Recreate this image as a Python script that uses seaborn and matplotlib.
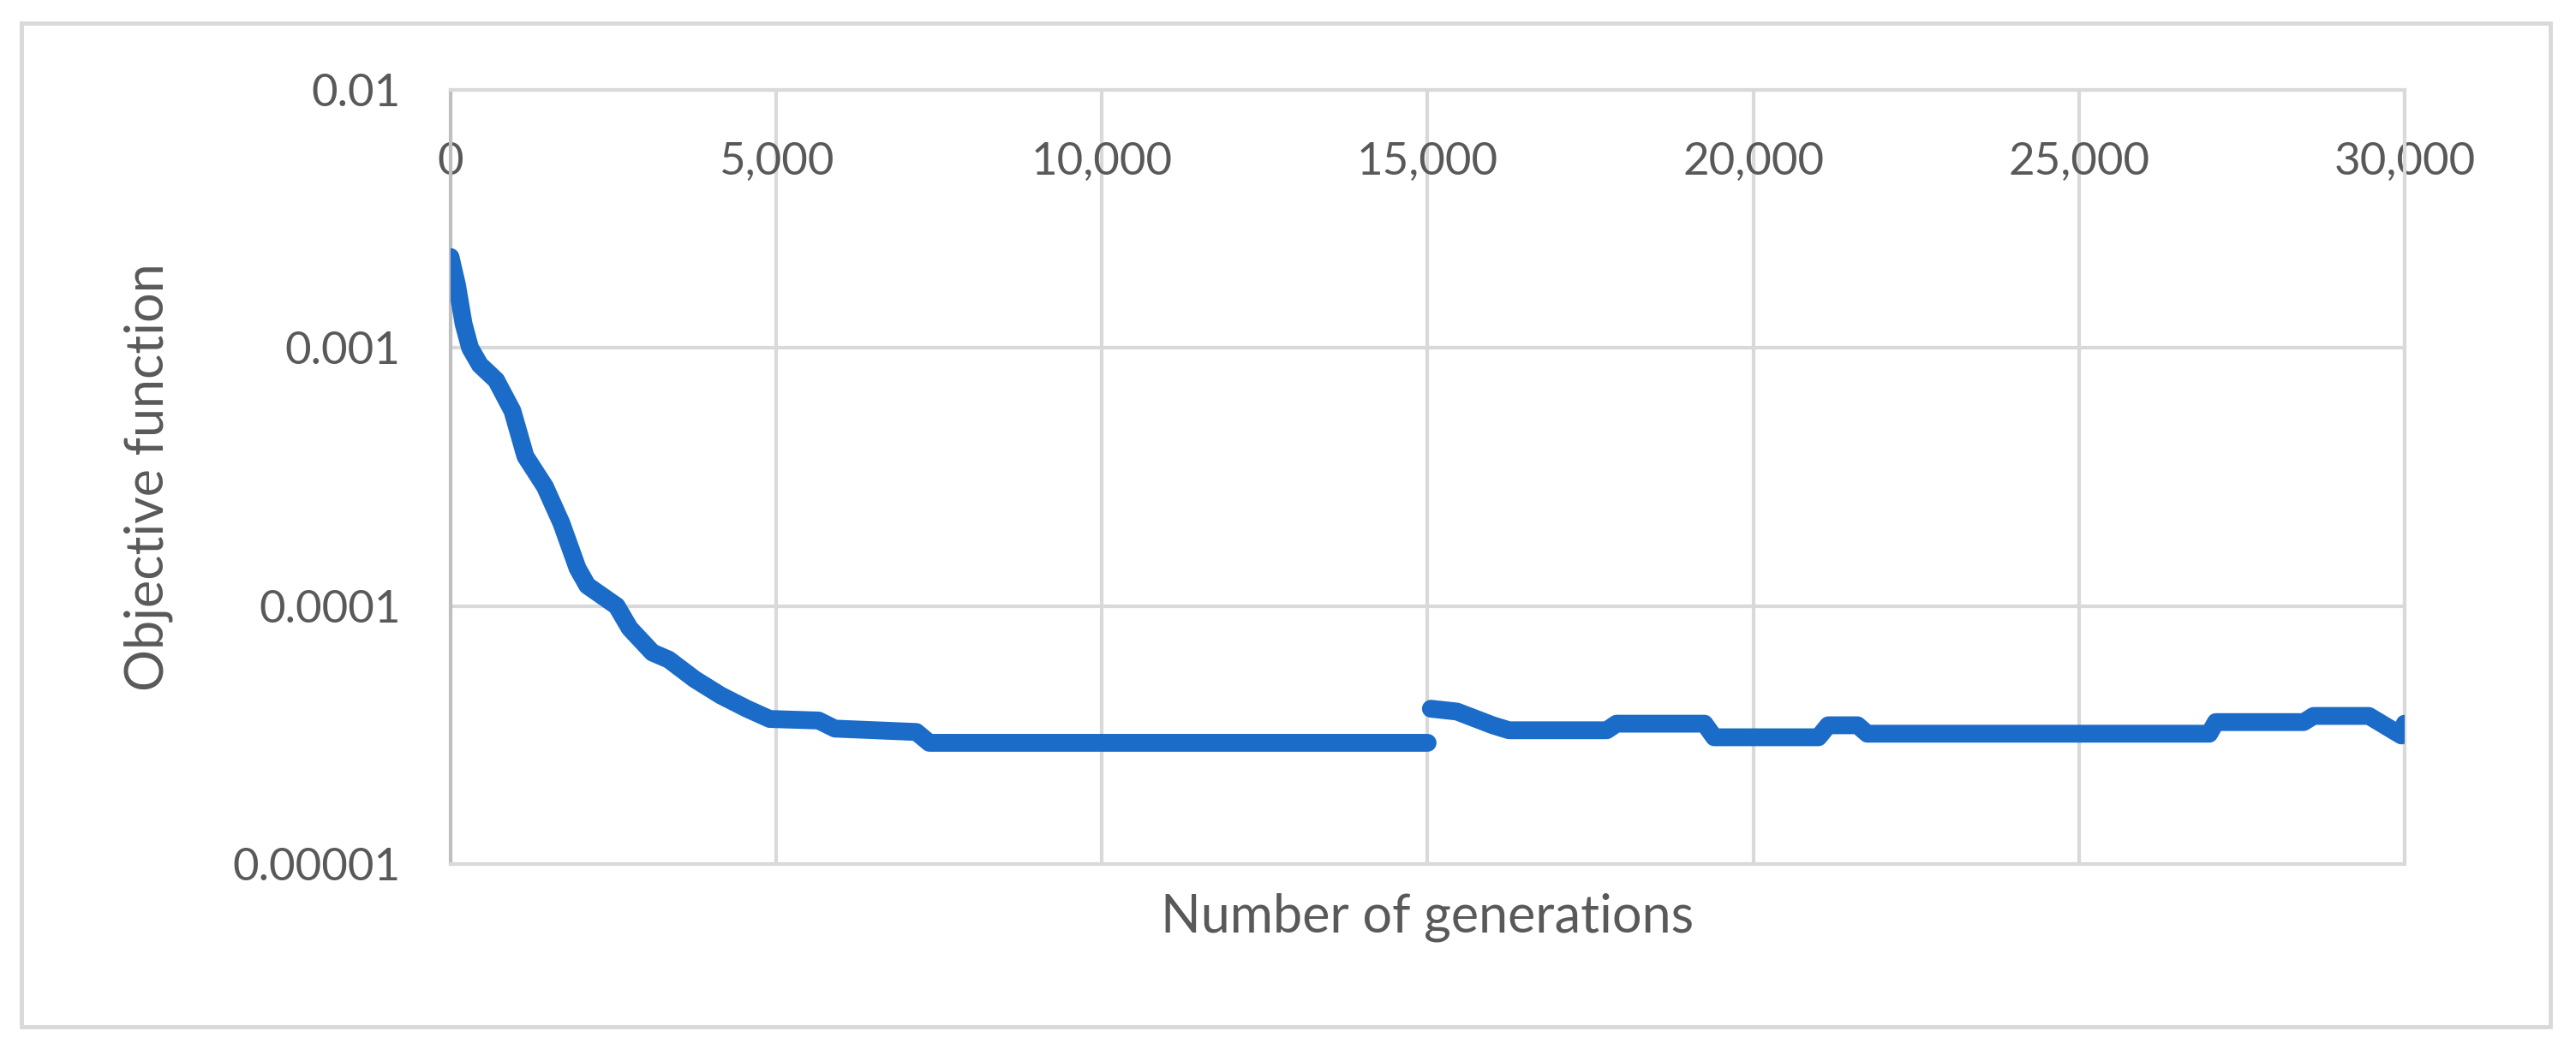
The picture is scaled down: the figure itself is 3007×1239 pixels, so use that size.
import numpy as np
import pandas as pd
import seaborn as sns
import matplotlib.pyplot as plt
from matplotlib.patches import Rectangle

# run 1: generations 0 - 15,000
run1_gen = [0, 100, 200, 300, 450, 700, 950, 1150, 1450, 1700, 1950, 2100, 2550,
            2750, 3100, 3350, 3750, 4150, 4550, 4900, 5650, 5900, 7150, 7350, 15000]
run1_obj = [0.00225, 0.00175, 0.00124, 0.001, 0.00086, 0.00075, 0.00057, 0.00038,
            0.00029, 0.00021, 0.00014, 0.00012, 0.0001, 8.2e-5, 6.6e-5, 6.2e-5,
            5.2e-5, 4.5e-5, 4.0e-5, 3.65e-5, 3.6e-5, 3.35e-5, 3.25e-5, 2.95e-5, 2.95e-5]

# run 2: generations 15,000 - 30,000
run2_gen = [15050, 15450, 16000, 16250, 17750, 17900, 19250, 19400, 21000, 21150,
            21600, 21750, 27000, 27100, 28450, 28600, 29450, 29950, 30000]
run2_obj = [4.0e-5, 3.9e-5, 3.45e-5, 3.3e-5, 3.3e-5, 3.5e-5, 3.5e-5, 3.1e-5, 3.1e-5,
            3.45e-5, 3.45e-5, 3.2e-5, 3.2e-5, 3.55e-5, 3.55e-5, 3.75e-5, 3.75e-5,
            3.15e-5, 3.5e-5]

x_ticks = [0, 5000, 10000, 15000, 20000, 25000, 30000]
x_labels = ["0", "5,000", "10,000", "15,000", "20,000", "25,000", "30,000"]
y_ticks = [1e-5, 1e-4, 1e-3, 1e-2]
y_labels = ["0.00001", "0.0001", "0.001", "0.01"]

sns.set_style("white")
plt.rcParams['font.family'] = ['Lato', 'DejaVu Sans']

text_col = "#595959"
grid_col = "#d9d9d9"
blue = "#1b6cc8"

fig = plt.figure(figsize=(30.07, 12.39), dpi=100)
ax = fig.add_axes([0.1749, 0.1856, 0.7586, 0.7297])

df1 = pd.DataFrame({"gen": run1_gen, "obj": run1_obj})
df2 = pd.DataFrame({"gen": run2_gen, "obj": run2_obj})
for d in (df1, df2):
    sns.lineplot(data=d, x="gen", y="obj", ax=ax, color=blue, lw=15, sort=False,
                 solid_capstyle="round", solid_joinstyle="round", zorder=3)

ax.set_yscale("log")
ax.set_xlim(0, 30000)
ax.set_ylim(1e-5, 1e-2)
ax.set_yticks(y_ticks)
ax.set_yticklabels(y_labels)
ax.yaxis.set_minor_locator(plt.NullLocator())
ax.set_xticks(x_ticks)
ax.set_xticklabels(x_labels)

ax.grid(True, color=grid_col, lw=3)
ax.set_axisbelow(True)
for s in ax.spines.values():
    s.set_color(grid_col)
    s.set_linewidth(3)
ax.spines["left"].set_color("#bfbfbf")

ax.xaxis.tick_top()
ax.tick_params(axis="x", length=0, pad=-78, labelsize=38, labelcolor=text_col)
ax.tick_params(axis="y", length=0, pad=42, labelsize=38, labelcolor=text_col)

ax.xaxis.set_label_position("bottom")
ax.set_xlabel("Number of generations", fontsize=44, color=text_col, labelpad=24)
ax.set_ylabel("Objective function", fontsize=44, color=text_col, labelpad=50)

# outer chart frame
fig.patches.append(Rectangle((0.0083, 0.0323), 0.9817, 0.9459, transform=fig.transFigure,
                             fill=False, edgecolor=grid_col, lw=3.5))

fig.savefig("out.png", dpi=100)
